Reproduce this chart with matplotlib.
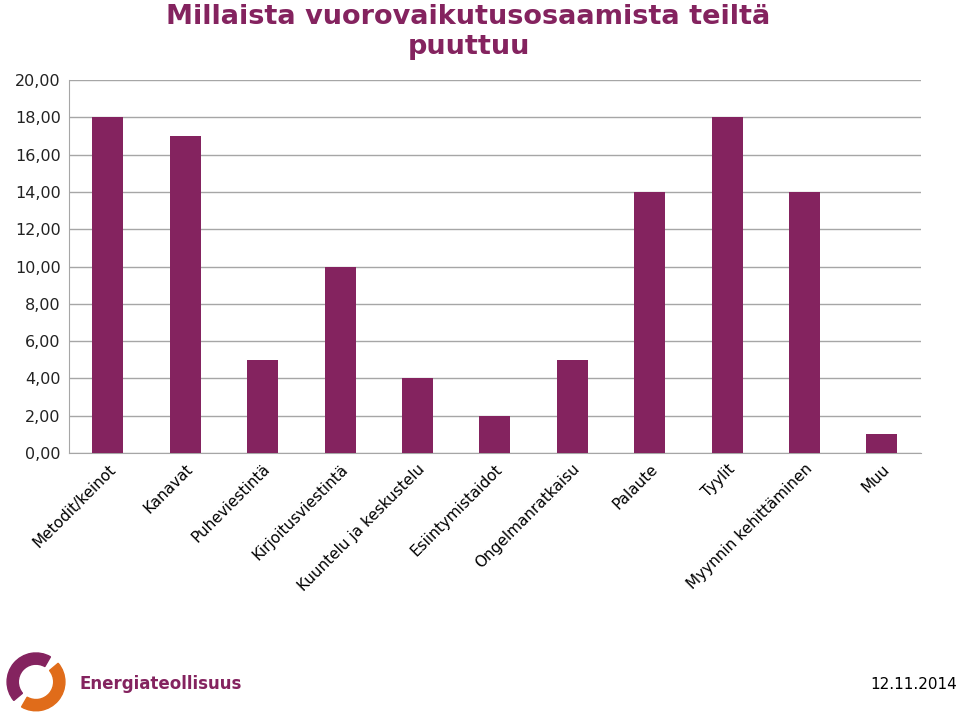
import numpy as np
import matplotlib.pyplot as plt
from matplotlib.patches import Wedge

# Kategoriat ja arvot
kategoriat = ['Metodit/keinot', 'Kanavat', 'Puheviestintä', 'Kirjoitusviestintä',
              'Kuuntelu ja keskustelu', 'Esiintymistaidot', 'Ongelmanratkaisu',
              'Palaute', 'Tyylit', 'Myynnin kehittäminen', 'Muu']
arvot = [18, 17, 5, 10, 4, 2, 5, 14, 18, 14, 1]
y_tikit = [0, 2, 4, 6, 8, 10, 12, 14, 16, 18, 20]

violetti = '#84235F'

fig = plt.figure(figsize=(9.6, 7.14), dpi=100)
ax = fig.add_axes([0.072, 0.3655, 0.887, 0.5225])

x = np.arange(len(arvot))
ax.bar(x, arvot, width=0.4, color=violetti, zorder=3)
ax.set_xlim(-0.5, len(arvot) - 0.5)
ax.set_ylim(0, 20)
ax.set_yticks(y_tikit)
ax.set_yticklabels([f'{v:.2f}'.replace('.', ',') for v in y_tikit], fontsize=11.5,
                   color='#222222')
ax.yaxis.grid(True, color='#a6a6a6', linewidth=1, zorder=0)
ax.set_xticks(x)
ax.set_xticklabels(kategoriat, rotation=45, ha='right', rotation_mode='anchor',
                   fontsize=11)
ax.tick_params(length=0, pad=6)
for s in ['top', 'right']:
    ax.spines[s].set_visible(False)
ax.spines['left'].set_color('#a6a6a6')
ax.spines['bottom'].set_color('#a6a6a6')

# Otsikko
fig.text(0.488, 0.995, 'Millaista vuorovaikutusosaamista teiltä\npuuttuu',
         ha='center', va='top', fontsize=19.5, fontweight='bold', color=violetti,
         family=['DejaVu Sans Condensed', 'DejaVu Sans'], linespacing=1.22)

# Logo ja päivämäärä
lax = fig.add_axes([0.0, 0.0, 0.075, 0.09])
lax.set_xlim(-1, 1)
lax.set_ylim(-1, 1)
lax.set_aspect('equal')
lax.axis('off')
lax.add_patch(Wedge((0, 0), 0.9, 60, 220, width=0.35, color=violetti))
lax.add_patch(Wedge((0, 0), 0.9, 240, 40, width=0.35, color='#E06C1A'))
fig.text(0.083, 0.042, 'Energiateollisuus', fontsize=12, fontweight='bold',
         color=violetti, family=['DejaVu Sans Condensed', 'DejaVu Sans'], va='center')
fig.text(0.997, 0.042, '12.11.2014', fontsize=11, ha='right', va='center')

fig.savefig('out.png')
